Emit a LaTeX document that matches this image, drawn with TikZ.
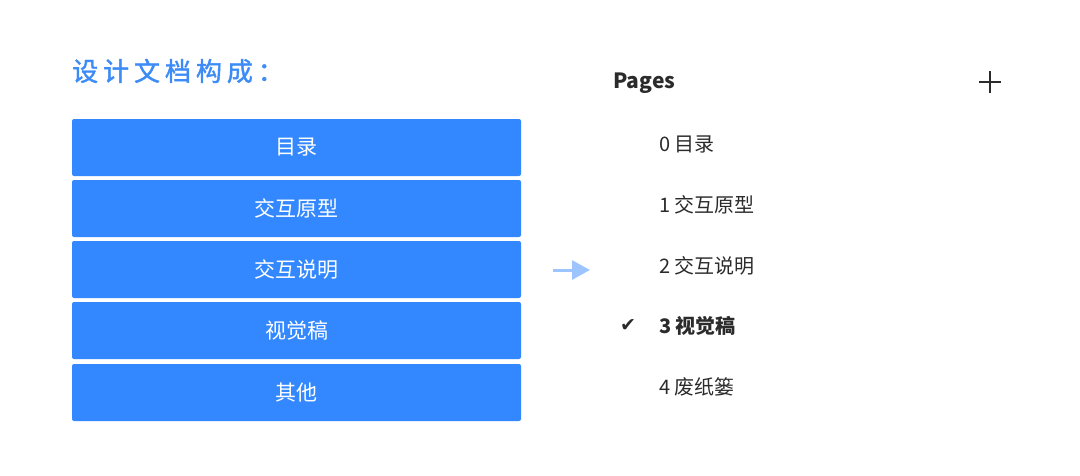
\documentclass[tikz,border=0pt]{standalone}
\usepackage{fontspec}
\setmainfont{Noto Sans CJK SC}
\newfontfamily\symfont{DejaVu Sans}
\usetikzlibrary{arrows.meta}
\definecolor{boxblue}{HTML}{3388FF}
\definecolor{titleblue}{HTML}{3D8BF6}
\definecolor{arrowblue}{HTML}{9CC4FF}
\definecolor{ink}{HTML}{2B2B2B}
\tikzstyle{title}=[anchor=west,inner sep=0pt,text=titleblue,font=\fontsize{26}{26}\selectfont\addfontfeature{LetterSpace=19,FakeBold=1.5}]
\tikzstyle{block}=[rectangle,fill=boxblue,text=white,minimum width=449pt,minimum height=57pt,rounded corners=2pt,inner sep=0pt,font=\fontsize{21}{21}\selectfont]
\tikzstyle{page}=[anchor=west,inner sep=0pt,text=ink,font=\fontsize{20}{20}\selectfont]
\tikzstyle{flow}=[draw=arrowblue,line width=3pt,-{Triangle[length=18pt,width=19pt]}]

\begin{document}
\begin{tikzpicture}[x=1pt,y=-1pt]
	\useasboundingbox (0,0) rectangle (1080,475);

	% Heading on the left
	\node[title] (head) at (72,71) {设计文档构成：};

	% First we draw the stacked blocks
	\foreach \pos/\name/\text in {{147.5/toc/目录}, {208.5/proto/交互原型}, {269.5/spec/交互说明},
								{330.5/visual/视觉稿}, {392.5/other/其他}}
	\node[block] (\name) at (296.5,\pos) {\text};

	% Arrow between the two halves
	\coordinate (from) at (553,270);
	\coordinate (to) at (590,270);
	\path[flow] (from) -- (to);

	% Then the page list on the right
	\node[page,font=\fontsize{21}{21}\selectfont\bfseries] (pages) at (613,83) {Pages};
	\draw[ink,line width=1.5pt] (979,82) -- (1001,82) (990,71) -- (990,93);

	\foreach \pos/\name/\text in {{144/p0/0\hspace{4pt}目录}, {205/p1/1\hspace{4pt}交互原型}, {266/p2/2\hspace{4pt}交互说明}, {387/p4/4\hspace{4pt}废纸篓}}
	\node[page] (\name) at (659,\pos) {\text};

	\node[page,font=\fontsize{20}{20}\selectfont\bfseries] (p3) at (659,326) {3\hspace{4pt}视觉稿};
	\node[page,font=\fontsize{19}{19}\symfont\bfseries] (tick) at (620,325) {✔};
\end{tikzpicture}
\end{document}
